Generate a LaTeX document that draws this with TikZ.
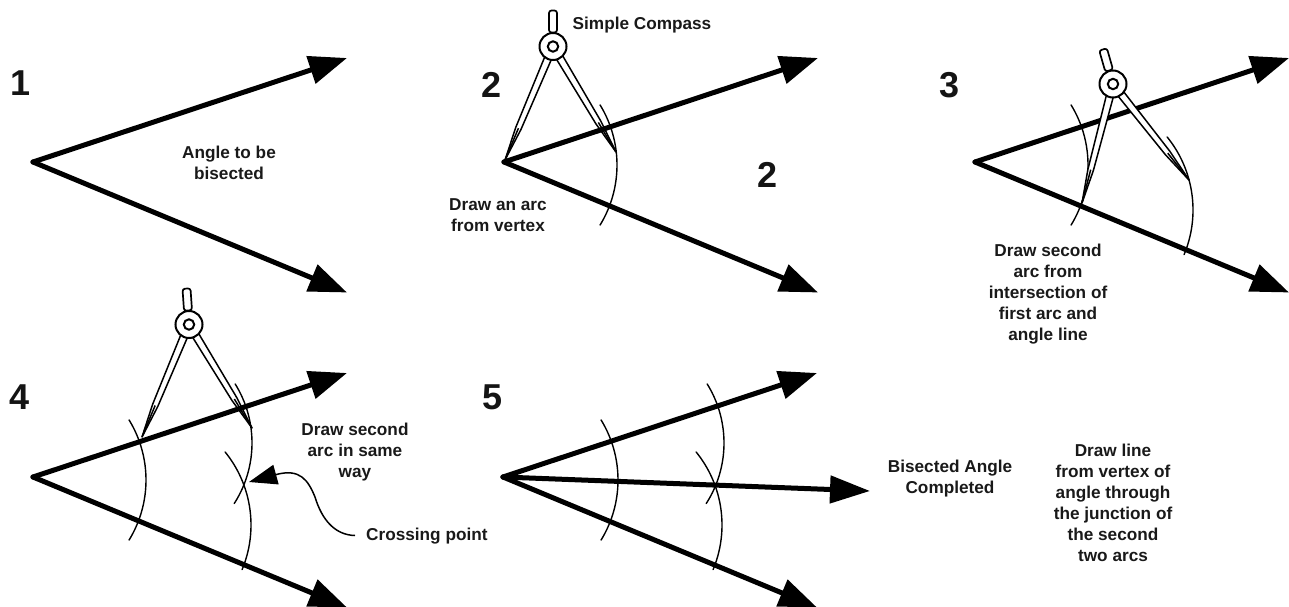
\documentclass[tikz,border=0pt]{standalone}
\usepackage{fontspec}
\setmainfont{Liberation Sans}
\usetikzlibrary{arrows.meta,calc}
\tikzset{
  ray/.style={line width=5pt,line cap=round,-{Triangle[length=38pt,width=28pt]}},
  arcline/.style={line width=1.4pt,line cap=round},
  compline/.style={line width=1.5pt,fill=white,line join=round},
  numlabel/.style={font=\bfseries\fontsize{36}{36}\selectfont,inner sep=0pt,text=black!92},
  note/.style={font=\bfseries\fontsize{17.2}{21}\selectfont,inner sep=0pt,align=center,text=black!90},
}
\newcommand{\anglepair}[3]{%
  \coordinate (v#1) at (#2,#3);
  \coordinate (t#1) at ($(v#1)+(314,-104)$);
  \coordinate (b#1) at ($(v#1)+(314,130.5)$);
  \draw[ray] (v#1) -- (t#1);
  \draw[ray] (v#1) -- (b#1);
}
% centre x, centre y, radius, from angle, to angle (positive = downward on the page)
\newcommand{\circarc}[5]{%
  \draw[arcline] plot[domain=#4:#5,samples=40,smooth] ({#1+#3*cos(\x)},{#2+#3*sin(\x)});
}
% #1 id, #2 head, #3 left tip, #4 right tip, #5 handle rotation
\newcommand{\compassdraw}[5]{%
  \coordinate (h#1) at (#2);
  \coordinate (l#1) at (#3);
  \coordinate (r#1) at (#4);
  \draw[compline] ($(h#1)!8pt!(l#1)!3.6pt!90:(l#1)$) -- ($(h#1)!0.72!(l#1)!2.8pt!90:(l#1)$) -- (l#1)
     -- ($(h#1)!0.72!(l#1)!2.8pt!-90:(l#1)$) -- ($(h#1)!8pt!(l#1)!3.6pt!-90:(l#1)$);
  \draw[line width=1.5pt] ($(h#1)!0.72!(l#1)$) -- (l#1);
  \draw[compline] ($(h#1)!8pt!(r#1)!3.6pt!90:(r#1)$) -- ($(h#1)!0.72!(r#1)!2.8pt!90:(r#1)$) -- (r#1)
     -- ($(h#1)!0.72!(r#1)!2.8pt!-90:(r#1)$) -- ($(h#1)!8pt!(r#1)!3.6pt!-90:(r#1)$);
  \draw[line width=1.5pt] ($(h#1)!0.72!(r#1)$) -- (r#1);
  \draw[line width=1.7pt,fill=white,rotate around={#5:(h#1)},rounded corners=2.5pt]
     ($(h#1)+(-4,-36)$) rectangle ($(h#1)+(4,-14)$);
  \draw[line width=2pt,fill=white] (h#1) circle[radius=13.5pt];
  \draw[line width=2pt,fill=white] (h#1) circle[radius=5.2pt];
}
\begin{document}
\begin{tikzpicture}[x=1pt,y=-1pt]
\useasboundingbox (0,0) rectangle (1289,607);
% panel 1
\anglepair{1}{33}{162}
% panel 2 (compass under the ray)
\compassdraw{2}{553,46.5}{505,160}{616,152}{0}
\anglepair{2}{504}{162}
\circarc{502}{165}{115}{-31.5}{31.5}
% panel 3
\anglepair{3}{975}{162}
\circarc{973}{165}{115}{-31.5}{31.5}
\circarc{1077}{210}{116}{-39}{22.6}
\compassdraw{3}{1113,84}{1082,203}{1189,180}{16}
% panel 4 (compass under the ray)
\compassdraw{4}{189,324.5}{142,437}{252,428}{4}
\anglepair{4}{33}{477}
\circarc{31}{480}{115}{-31.5}{31.5}
\circarc{140}{443}{112}{-31.8}{32.7}
\circarc{135}{525}{116}{-39}{22.6}
% panel 5
\anglepair{5}{503}{477}
\coordinate (m5) at (870,491);
\draw[ray,-{Triangle[length=40pt,width=27pt]}] (v5) -- (m5);
\circarc{503}{480}{115}{-31.5}{31.5}
\circarc{612}{443}{112}{-31.8}{32.7}
\circarc{606}{525}{116}{-39}{22.6}
% numbers
\node[numlabel] (n1) at (20.5,83) {1};
\node[numlabel] (n2) at (492,85) {2};
\node[numlabel] (n2b) at (767,175) {2};
\node[numlabel] (n3) at (949,85) {3};
\node[numlabel] (n4) at (20,397) {4};
\node[numlabel] (n5) at (493,397) {5};
% notes
\node[note] (a1) at (229,162.5) {Angle to be\\bisected};
\node[note] (a2) at (642,25.5) {Simple Compass};
\node[note] (a3) at (498,215.5) {Draw an arc\\from vertex};
\node[note] (a4) at (1048,294.5) {Draw second\\arc from\\intersection of\\first arc and\\angle line};
\node[note] (a5) at (355,452) {Draw second\\arc in same\\way};
\node[note,anchor=west] (cp) at (366,536.5) {Crossing point};
\node[note] (a6) at (950,479) {Bisected Angle\\Completed};
\node[note] (a7) at (1113,502.5) {Draw line\\from vertex of\\angle through\\the junction of\\the second\\two arcs};
% crossing pointer
\coordinate (xp) at (249,482);
\coordinate (cpend) at ($(cp.west)+(-11,-1)$);
\draw[line width=1.5pt,{Triangle[length=28pt,width=20pt]}-] (xp) .. controls (300,468) and (308,480) .. (315,497) .. controls (322,520) and (335,535) .. (cpend);
\end{tikzpicture}
\end{document}
